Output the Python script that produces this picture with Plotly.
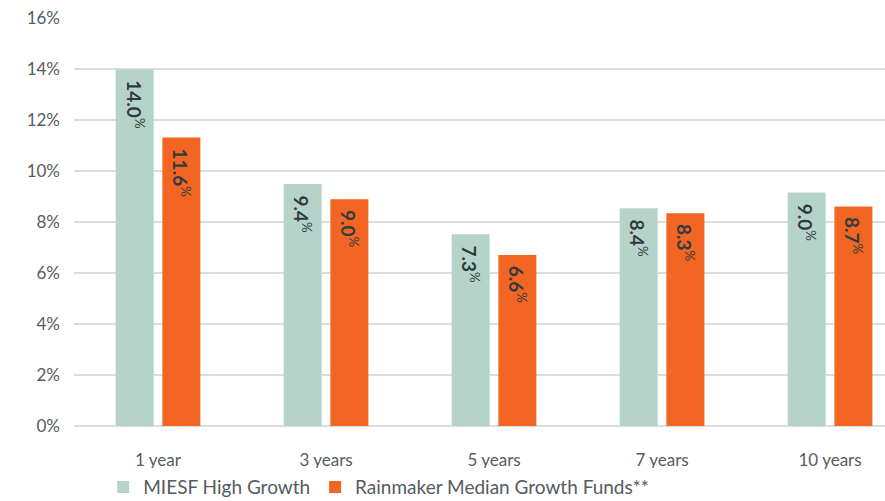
import plotly.graph_objects as go

categories = ["1 year", "3 years", "5 years", "7 years", "10 years"]
miesf_values = [14.0, 9.5, 7.53, 8.55, 9.17]
miesf_labels = ["14.0", "9.4", "7.3", "8.4", "9.0"]
rain_values = [11.33, 8.9, 6.71, 8.35, 8.62]
rain_labels = ["11.6", "9.0", "6.6", "8.3", "8.7"]
y_ticks = [0, 2, 4, 6, 8, 10, 12, 14, 16]

FONT = "Lato"
TXT = "#2f3b3f"
AX = "#555c60"
BW = 0.226
OFF1 = -0.252
OFF2 = 0.026

x_idx = list(range(len(categories)))

fig = go.Figure()
fig.add_trace(go.Bar(
    x=x_idx, y=miesf_values, name="MIESF High Growth",
    marker=dict(color="#b6d3c9", line=dict(width=0)),
    width=BW, offset=OFF1, hoverinfo="skip",
))
fig.add_trace(go.Bar(
    x=x_idx, y=rain_values, name="Rainmaker Median Growth Funds**",
    marker=dict(color="#f26522", line=dict(width=0)),
    width=BW, offset=OFF2, hoverinfo="skip",
))

for vals, labs, off in ((miesf_values, miesf_labels, OFF1), (rain_values, rain_labels, OFF2)):
    for i, (v, l) in enumerate(zip(vals, labs)):
        fig.add_annotation(
            x=i + off + BW / 2, y=v, xref="x", yref="y",
            text=f"<b>{l}</b><sup>%</sup>",
            showarrow=False, textangle=90, xanchor="center", yanchor="top",
            yshift=-9, font=dict(family=FONT, size=19, color=TXT),
        )

fig.update_layout(
    width=885, height=501,
    margin=dict(l=74, r=0, t=18, b=75, autoexpand=False),
    paper_bgcolor="white", plot_bgcolor="white",
    barmode="overlay",
    showlegend=True,
    legend=dict(orientation="h", x=0.036, xanchor="left", y=-0.15, yanchor="middle",
                font=dict(family=FONT, size=19, color=AX), traceorder="normal",
                itemsizing="constant"),
    font=dict(family=FONT, color=AX),
)
fig.update_xaxes(
    tickmode="array", tickvals=x_idx, ticktext=categories,
    range=[-0.5, 4.327], showgrid=False, showline=False, ticks="",
    ticklabelstandoff=22,
    tickfont=dict(family=FONT, size=17, color=AX),
)
fig.update_yaxes(
    range=[0, 16.02], tickvals=y_ticks, ticktext=[f"{v}%" for v in y_ticks],
    showgrid=True, gridcolor="#dcdcdc", gridwidth=2,
    zeroline=True, zerolinecolor="#dcdcdc", zerolinewidth=2,
    showline=False, ticks="", ticklabelstandoff=13,
    tickfont=dict(family=FONT, size=17, color=AX),
)

fig.write_html("out.html")
